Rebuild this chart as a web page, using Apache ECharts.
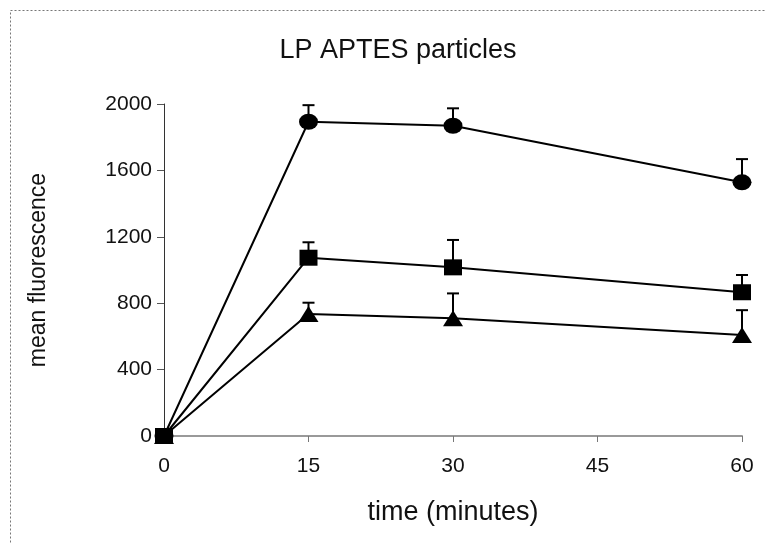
<!DOCTYPE html>
<html>
<head>
<meta charset="utf-8">
<script src="https://cdn.jsdelivr.net/npm/echarts@6/dist/echarts.min.js"></script>
<style>
html,body{margin:0;padding:0;background:#fff;}
#chart{width:766px;height:543px;}
</style>
</head>
<body>
<div id="chart"></div>
<script>
var times = [0, 15, 30, 60];
var xTicks = [0, 15, 30, 45, 60];
var yTicks = [0, 400, 800, 1200, 1600, 2000];
var circleVals = [0, 1893, 1869, 1528];
var circleErr = [0, 100, 105, 140];
var squareVals = [0, 1074, 1016, 866];
var squareErr = [0, 93, 165, 104];
var triangleVals = [0, 735, 709, 608];
var triangleErr = [0, 68, 150, 150];

var FONT = 'Liberation Sans, Arial, sans-serif';

function pairs(vals) {
  return times.map(function (t, i) { return [t, vals[i]]; });
}
function errData(vals, errs) {
  var out = [];
  times.forEach(function (t, i) {
    if (errs[i] > 0) out.push([t, vals[i], vals[i] + errs[i]]);
  });
  return out;
}
function errSeries(vals, errs) {
  return {
    type: 'custom',
    data: errData(vals, errs),
    z: 1,
    renderItem: function (params, api) {
      var p0 = api.coord([api.value(0), api.value(1)]);
      var p1 = api.coord([api.value(0), api.value(2)]);
      var hw = 6;
      return {
        type: 'group',
        children: [
          { type: 'line', shape: { x1: p0[0], y1: p0[1], x2: p1[0], y2: p1[1] },
            style: { stroke: '#000', lineWidth: 2 } },
          { type: 'line', shape: { x1: p1[0] - hw, y1: p1[1], x2: p1[0] + hw, y2: p1[1] },
            style: { stroke: '#000', lineWidth: 2 } }
        ]
      };
    }
  };
}
function lineSeries(vals, symbol, size) {
  return {
    type: 'line',
    data: pairs(vals),
    symbol: symbol,
    symbolSize: size,
    showAllSymbol: true,
    z: 3,
    lineStyle: { color: '#000', width: 2 },
    itemStyle: { color: '#000', borderWidth: 0 },
    animation: false
  };
}

var chart = echarts.init(document.getElementById('chart'));
chart.setOption({
  animation: false,
  backgroundColor: '#fff',
  title: {
    text: 'LP APTES particles',
    left: 393, top: 32,
    textAlign: 'center',
    textStyle: { fontFamily: FONT, fontSize: 27, fontWeight: 'normal', color: '#111' }
  },
  graphic: [{
    type: 'rect', left: 8, top: 8, z: -1,
    shape: { width: 780, height: 560 },
    style: { fill: 'none', stroke: '#777', lineWidth: 1, lineDash: [2, 2] }
  }],
  grid: { left: 164, right: 24, top: 104, bottom: 107 },
  xAxis: {
    type: 'value', min: 0, max: 60, interval: 15,
    name: 'time (minutes)', nameLocation: 'middle', nameGap: 63,
    nameTextStyle: { fontFamily: FONT, fontSize: 27, color: '#111' },
    axisLine: { lineStyle: { color: '#999', width: 2 } },
    axisTick: { show: true, inside: false, length: 6, lineStyle: { color: '#777' } },
    axisLabel: { fontFamily: FONT, fontSize: 21, color: '#111', margin: 20 },
    splitLine: { show: false }
  },
  yAxis: {
    type: 'value', min: 0, max: 2000, interval: 400,
    name: 'mean fluorescence', nameLocation: 'middle', nameGap: 114,
    nameTextStyle: { fontFamily: FONT, fontSize: 23, color: '#111' },
    axisLine: { show: true, lineStyle: { color: '#333', width: 1 } },
    axisTick: { show: true, inside: false, length: 7, lineStyle: { color: '#555' } },
    axisLabel: { fontFamily: FONT, fontSize: 21, color: '#111', margin: 12,
      formatter: function (v) { return String(v); } },
    splitLine: { show: false }
  },
  series: [
    errSeries(circleVals, circleErr),
    errSeries(triangleVals, triangleErr),
    errSeries(squareVals, squareErr),
    lineSeries(circleVals, 'circle', [19, 16]),
    lineSeries(triangleVals, 'triangle', [20, 16]),
    lineSeries(squareVals, 'rect', [18, 16])
  ]
});
</script>
</body>
</html>
